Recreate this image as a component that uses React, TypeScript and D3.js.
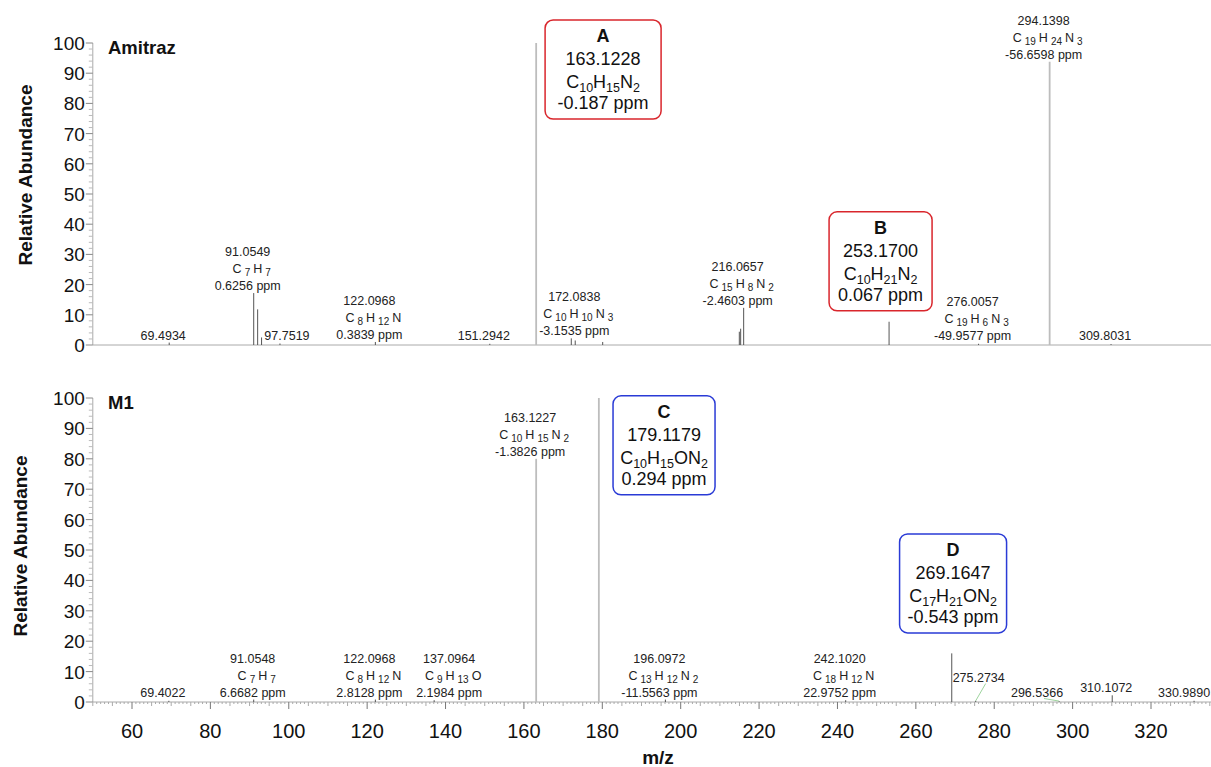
import React from "react";
import * as d3 from "d3";

const FONT = "Arial, 'Liberation Sans', Helvetica, sans-serif";

// ---- Amitraz spectrum (top) ----
const amitrazMz = [69.4934, 91.0549, 92.058, 93.06, 97.7519, 122.0968, 151.2942, 163.1228, 172.0838, 173.09, 180.1, 214.96, 215.3, 216.0657, 253.17, 276.0057, 294.1398, 309.8031];
const amitrazAbund = [0.8, 17.2, 11.8, 2.5, 0.5, 1.0, 0.4, 100, 2.2, 1.5, 1.0, 4.4, 5.4, 12.3, 7.7, 0.4, 93.8, 0.3];

const amitrazLabels = [
  { mz: 69.4934, text: ["69.4934"] },
  { mz: 91.0549, text: ["91.0549", "C7H7", "0.6256 ppm"] },
  { mz: 97.7519, text: ["97.7519"] },
  { mz: 122.0968, text: ["122.0968", "C8H12N", "0.3839 ppm"] },
  { mz: 151.2942, text: ["151.2942"] },
  { mz: 172.0838, text: ["172.0838", "C10H10N3", "-3.1535 ppm"] },
  { mz: 216.0657, text: ["216.0657", "C15H8N2", "-2.4603 ppm"] },
  { mz: 276.0057, text: ["276.0057", "C19H6N3", "-49.9577 ppm"] },
  { mz: 294.1398, text: ["294.1398", "C19H24N3", "-56.6598 ppm"] },
  { mz: 309.8031, text: ["309.8031"] },
];

// ---- M1 spectrum (bottom) ----
const m1Mz = [69.4022, 91.0548, 122.0968, 137.0964, 163.1227, 179.1179, 196.0972, 242.102, 269.1647, 275.2734, 296.5366, 310.1072, 330.989];
const m1Abund = [0.4, 0.8, 0.8, 0.6, 80, 100, 0.8, 0.6, 16, 0.4, 0.3, 2.2, 0.4];

const m1Labels = [
  { mz: 69.4022, text: ["69.4022"] },
  { mz: 91.0548, text: ["91.0548", "C7H7", "6.6682 ppm"] },
  { mz: 122.0968, text: ["122.0968", "C8H12N", "2.8128 ppm"] },
  { mz: 137.0964, text: ["137.0964", "C9H13O", "2.1984 ppm"] },
  { mz: 163.1227, text: ["163.1227", "C10H15N2", "-1.3826 ppm"] },
  { mz: 196.0972, text: ["196.0972", "C13H12N2", "-11.5563 ppm"] },
  { mz: 242.102, text: ["242.1020", "C18H12N", "22.9752 ppm"] },
  { mz: 275.2734, text: ["275.2734"] },
  { mz: 296.5366, text: ["296.5366"] },
  { mz: 310.1072, text: ["310.1072"] },
  { mz: 330.989, text: ["330.9890"] },
];

// ---- callouts ----
const calloutIds = ["A", "B", "C", "D"];
const calloutMass = ["163.1228", "253.1700", "179.1179", "269.1647"];
const calloutFormula = ["C10H15N2", "C10H21N2", "C10H15ON2", "C17H21ON2"];
const calloutPpm = ["-0.187 ppm", "0.067 ppm", "0.294 ppm", "-0.543 ppm"];

// layout of callouts: panel, center m/z, top (abundance units), width
const calloutLayout = [
  { panel: 0, mz: 180.2, top: 107.6, w: 116, color: "#d9262c" },
  { panel: 0, mz: 251.0, top: 44.1, w: 103, color: "#d9262c" },
  { panel: 1, mz: 195.75, top: 100.7, w: 102, color: "#2a3bd6" },
  { panel: 1, mz: 269.5, top: 55.3, w: 107, color: "#2a3bd6" },
];

// label nudges (px) for crowded peaks
const labelNudge: Record<string, { dx: number; dy: number; leader?: boolean }> = {
  "97.7519": { dx: 13, dy: 0 },
  "172.0838": { dx: 9, dy: 0 },
  "137.0964": { dx: 21, dy: 0 },
  "91.0548": { dx: 5, dy: 0 },
  "275.2734": { dx: 9, dy: -15, leader: true },
  "296.5366": { dx: -16, dy: 0, leader: true },
  "330.9890": { dx: -4, dy: 0 },
};

const x = d3.scaleLinear().domain([60, 320]).range([132, 1151]);
const X0 = x(50);
const X1 = 1211;

const panels = [
  { name: "Amitraz", mz: amitrazMz, ab: amitrazAbund, labels: amitrazLabels, y: d3.scaleLinear().domain([0, 100]).range([345, 43]), titleY: 175, titleX: 32, showX: false },
  { name: "M1", mz: m1Mz, ab: m1Abund, labels: m1Labels, y: d3.scaleLinear().domain([0, 100]).range([702, 398]), titleY: 546, titleX: 27, showX: true },
];

function Formula({ f, sub, shift, gap }: { f: string; sub: number; shift: number; gap: number }) {
  const toks = Array.from(f.matchAll(/([A-Z][a-z]?)(\d*)/g));
  const out: React.ReactNode[] = [];
  let down = false;
  toks.forEach((t, i) => {
    out.push(
      <tspan key={"e" + i} dx={i === 0 ? 0 : gap} dy={down ? -shift : 0}>{t[1]}</tspan>
    );
    down = false;
    if (t[2]) {
      out.push(
        <tspan key={"s" + i} dx={gap} dy={shift} fontSize={sub}>{t[2]}</tspan>
      );
      down = true;
    }
  });
  return <>{out}</>;
}

function Panel({ p }: { p: (typeof panels)[number] }) {
  const y = p.y;
  const base = y(0);
  const majors = d3.range(0, 101, 10);
  const minors = d3.range(0, 101, 2).filter((v) => v % 10 !== 0);
  const abAt = (mz: number) => {
    const i = p.mz.indexOf(mz);
    return i >= 0 ? p.ab[i] : 0;
  };
  return (
    <g>
      {/* y axis */}
      <line x1={X0} x2={X0} y1={y(100)} y2={base} stroke="#aaa" strokeWidth={1} />
      {minors.map((v) => (
        <line key={"m" + v} x1={X0 - 4} x2={X0} y1={y(v)} y2={y(v)} stroke="#bbb" strokeWidth={1} />
      ))}
      {majors.map((v) => (
        <g key={v}>
          <line x1={X0 - 7} x2={X0} y1={y(v)} y2={y(v)} stroke="#888" strokeWidth={1} />
          <text x={X0 - 8} y={y(v) + 7} textAnchor="end" fontSize={19} fontFamily={FONT} fill="#111">{v}</text>
        </g>
      ))}
      <text transform={`translate(${p.titleX},${p.titleY}) rotate(-90)`} textAnchor="middle" fontSize={19} fontWeight="bold" fontFamily={FONT} fill="#111">
        Relative Abundance
      </text>
      <text x={108} y={y(100) + 11} fontSize={18.5} fontWeight="bold" fontFamily={FONT} fill="#111">{p.name}</text>

      {/* x baseline */}
      <line x1={X0} x2={X1} y1={base} y2={base} stroke="#aaa" strokeWidth={1} />
      {p.showX && (
        <g>
          {d3.range(50, 336, 1).map((v) => {
            const len = v % 20 === 0 ? 7 : v % 5 === 0 ? 4 : 2;
            return <line key={v} x1={x(v)} x2={x(v)} y1={base} y2={base + len} stroke={v % 20 === 0 ? "#777" : "#aaa"} strokeWidth={1} />;
          })}
          {d3.range(60, 321, 20).map((v) => (
            <text key={"t" + v} x={x(v)} y={base + 36} textAnchor="middle" fontSize={20} fontFamily={FONT} fill="#111">{v}</text>
          ))}
        </g>
      )}

      {/* peaks */}
      {p.mz.map((mz, i) => {
        const big = p.ab[i] >= 50;
        return (
          <line key={"p" + i} x1={x(mz)} x2={x(mz)} y1={base} y2={y(p.ab[i])}
            stroke={big ? "#bdbdbd" : "#555"} strokeWidth={big ? 1.8 : 1} />
        );
      })}

      {/* peak labels */}
      {p.labels.map((l, i) => {
        const n = labelNudge[l.text[0]] || { dx: 0, dy: 0 };
        const px = x(l.mz);
        const top = y(abAt(l.mz));
        const lx = px - 6 + n.dx;
        const last = Math.min(top - 3, base - 5.5) + n.dy;
        const first = last - (l.text.length - 1) * 17;
        return (
          <g key={"l" + i}>
            {n.leader && (
              <line x1={lx + 7} y1={last + 2} x2={px} y2={top} stroke="#9ed49e" strokeWidth={1} />
            )}
            {l.text.map((t, j) => (
              <text key={j} x={lx + (l.text.length === 3 && j === 1 ? 4 : 0)} y={first + j * 17} textAnchor="middle" fontSize={12.5} fontFamily={FONT} fill="#222">
                {l.text.length === 3 && j === 1 ? <Formula f={t} sub={10} shift={3} gap={3} /> : t}
              </text>
            ))}
          </g>
        );
      })}
    </g>
  );
}

function Callouts() {
  return (
    <g>
      {calloutIds.map((id, i) => {
        const lay = calloutLayout[i];
        const y = panels[lay.panel].y;
        const cx = x(lay.mz);
        const top = y(lay.top);
        const h = 99;
        return (
          <g key={id} fontFamily={FONT} fill="#111">
            <rect x={cx - lay.w / 2} y={top} width={lay.w} height={h} rx={8} fill="white" stroke={lay.color} strokeWidth={1.5} />
            <text x={cx} y={top + 22} textAnchor="middle" fontSize={18} fontWeight="bold">{id}</text>
            <text x={cx} y={top + 45} textAnchor="middle" fontSize={18}>{calloutMass[i]}</text>
            <text x={cx} y={top + 68} textAnchor="middle" fontSize={18}>
              <Formula f={calloutFormula[i]} sub={12.5} shift={4} gap={0} />
            </text>
            <text x={cx} y={top + 89} textAnchor="middle" fontSize={18}>{calloutPpm[i]}</text>
          </g>
        );
      })}
    </g>
  );
}

export default function App() {
  return (
    <svg width={1211} height={767} style={{ position: "absolute", left: 0, top: 0, background: "white" }}>
      <rect width={1211} height={767} fill="white" />
      {panels.map((p) => (
        <Panel key={p.name} p={p} />
      ))}
      <Callouts />
      <text x={658} y={764} textAnchor="middle" fontSize={19} fontWeight="bold" fontFamily={FONT} fill="#111">m/z</text>
    </svg>
  );
}
